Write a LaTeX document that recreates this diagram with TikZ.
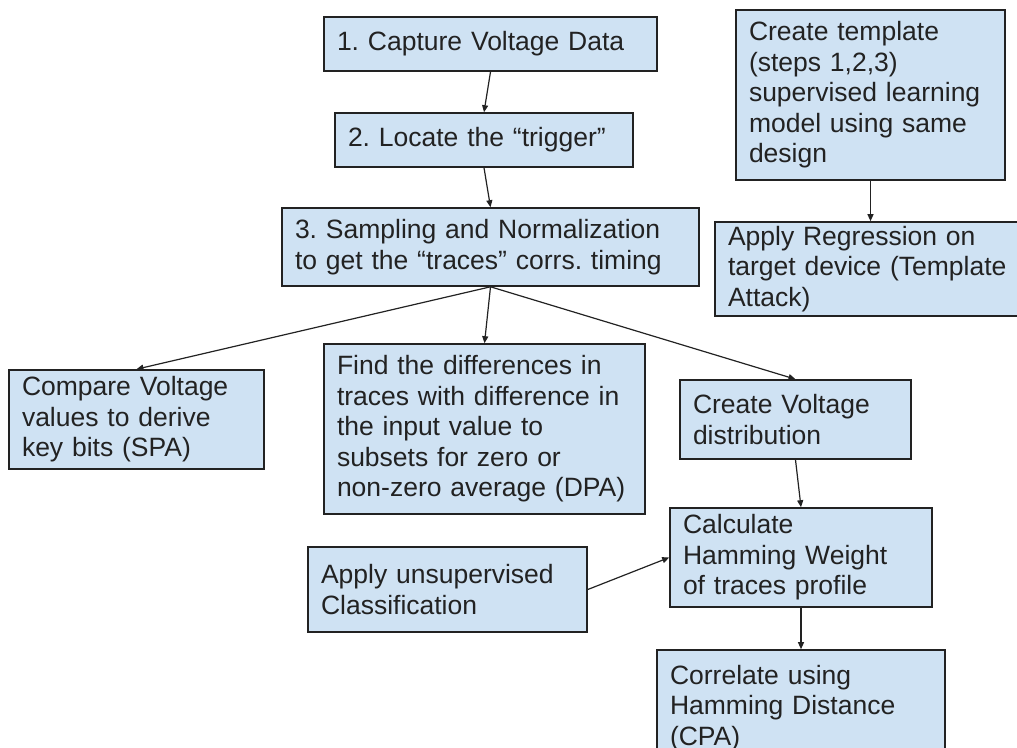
\documentclass[tikz,border=0pt]{standalone}
\usepackage{fontspec}
\setmainfont{Liberation Sans}
\usetikzlibrary{arrows.meta}
\definecolor{stagefill}{RGB}{207,226,243}
\definecolor{ink}{RGB}{34,34,34}
\frenchspacing

\begin{document}
\begin{tikzpicture}[
    x=1pt, y=-1pt,
    stage/.style={
        draw=ink, line width=1.6pt, fill=stagefill,
        text=ink, align=left, inner xsep=13pt, inner ysep=0pt,
        font=\fontsize{26.5}{30.5}\selectfont,
    },
    flow/.style={
        draw=ink, line width=1.2pt,
        -{Triangle[length=7pt,width=6pt]},
    },
    % page of the reference, in pixels
    ]
    \useasboundingbox (0,0) rectangle (1017,747);
    \clip (0,0) rectangle (1017,747);
    \node [stage, text width=307pt, minimum height=54pt, at={(490.5,44)}] (capture)
        {1. Capture Voltage Data};
    \node [stage, text width=272pt, minimum height=54pt, at={(484,140)}] (trigger)
        {2. Locate the “trigger”};
    \node [stage, text width=391pt, minimum height=78pt, at={(490.5,247)}] (sampling)
        {3. Sampling and Normalization\\to get the “traces” corrs. timing};
    \node [stage, text width=243pt, minimum height=170pt, at={(870.5,95)}] (template)
        {Create template\\(steps 1,2,3)\\supervised learning\\model using same\\design};
    \node [stage, text width=294pt, minimum height=94pt, at={(875,269)}] (regression)
        {Apply Regression on\\target device (Template\\Attack)};
    \node [stage, text width=229pt, minimum height=99pt, at={(136.5,419.5)}] (spa)
        {Compare Voltage\\values to derive\\key bits (SPA)};
    \node [stage, text width=295pt, minimum height=170pt, at={(484.5,429)}] (dpa)
        {Find the differences in\\traces with difference in\\the input value to\\subsets for zero or\\non-zero average (DPA)};
    \node [stage, text width=205pt, minimum height=79pt, at={(795.5,419.5)}] (distribution)
        {Create Voltage\\distribution};
    \node [stage, text width=236pt, minimum height=99pt, at={(801,557.5)}] (weight)
        {Calculate\\Hamming Weight\\of traces profile};
    \node [stage, text width=253pt, minimum height=85pt, at={(447.5,589.5)}] (unsupervised)
        {Apply unsupervised\\Classification};
    \node [stage, text width=262pt, minimum height=116pt, at={(801,708)}] (cpa)
        {Correlate using\\Hamming Distance\\(CPA)};

    \draw [flow] (capture.south) -- (trigger.north);
    \draw [flow] (trigger.south) -- (sampling.north);
    \draw [flow] (sampling.south) -- (spa.north);
    \draw [flow] (sampling.south) -- (dpa.north);
    \draw [flow] (sampling.south) -- (distribution.north);
    \draw [flow] (template.south) -- (regression.north -| template.south);
    \draw [flow] (distribution.south) -- (weight.north);
    \draw [flow] (unsupervised.east) -- (weight.west);
    \draw [flow] (weight.south) -- (cpa.north);
\end{tikzpicture}
\end{document}
